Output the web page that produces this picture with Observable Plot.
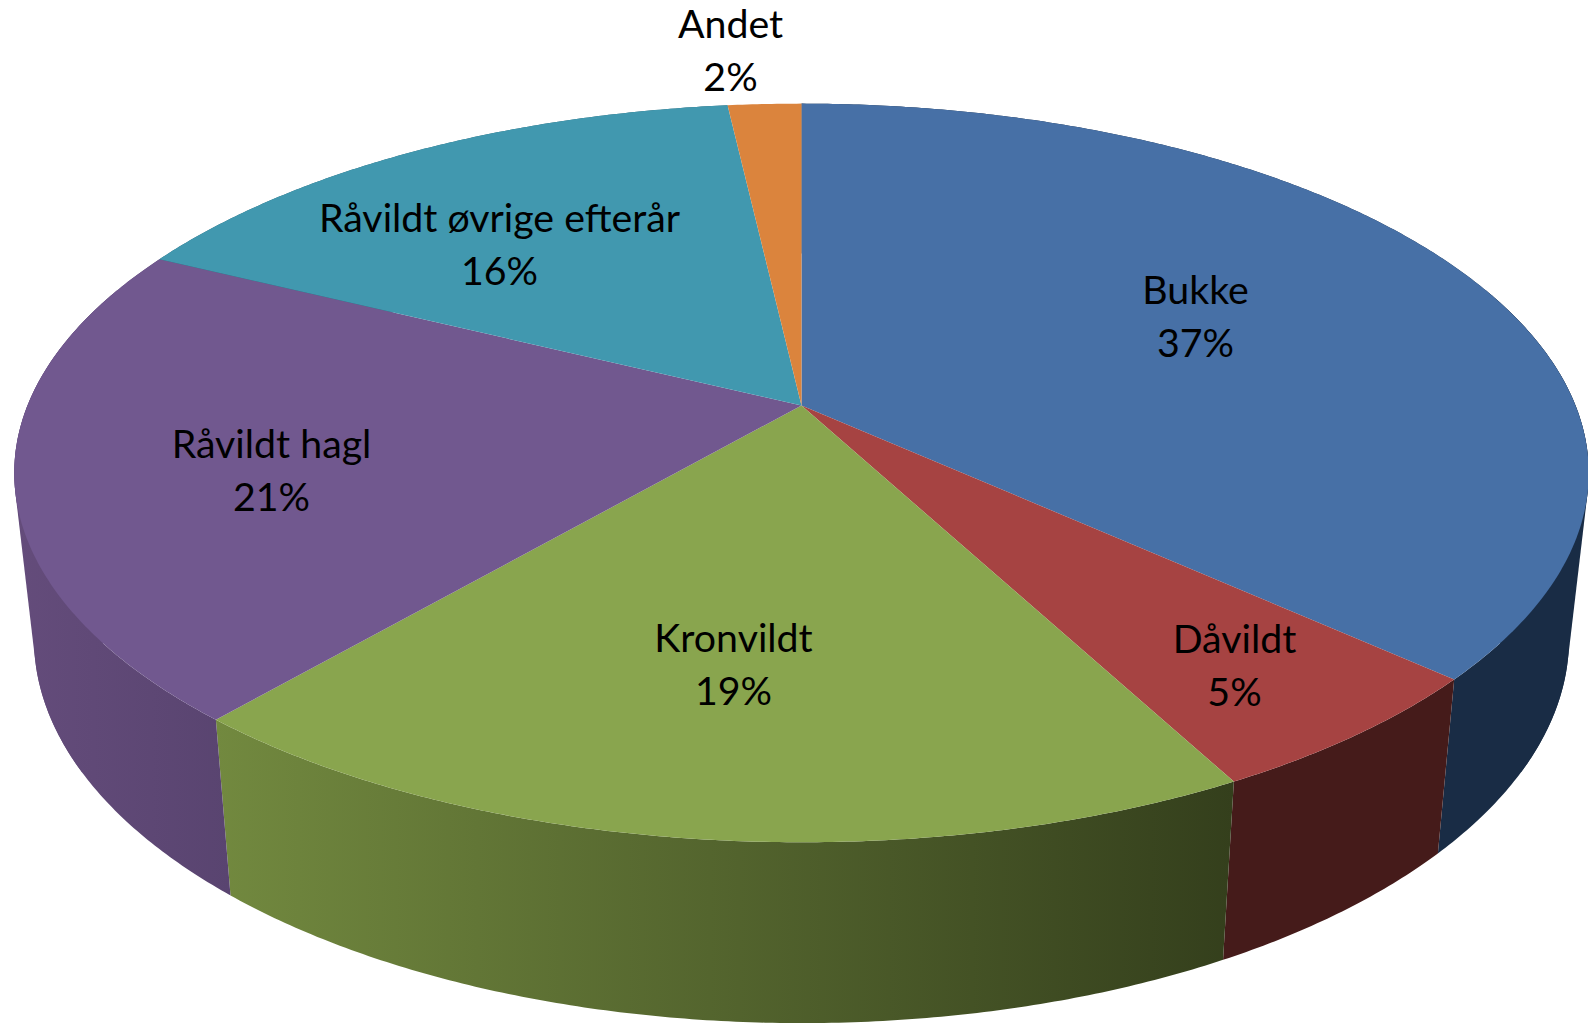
<!DOCTYPE html>
<html lang="da">
<head>
<meta charset="utf-8">
<script src="https://cdn.jsdelivr.net/npm/d3@7"></script>
<script src="https://cdn.jsdelivr.net/npm/@observablehq/plot@0.6"></script>
<style>
html,body{margin:0;padding:0;background:#fff;overflow:hidden}
svg{display:block}
</style>
</head>
<body>
<div id="chart"></div>
<script>
// Data: share of each category in percent, clockwise from twelve o'clock
const categories = ["Bukke", "Dåvildt", "Kronvildt", "Råvildt hagl", "Råvildt øvrige efterår", "Andet"];
const shares = [36.75, 5.49, 19.06, 21.0, 15.9, 1.8];

// Styles
const topColors = ["#4770a6", "#a64342", "#89a54e", "#71588f", "#4198af", "#db843d"];
const wallStops = [
  ["#192c45", "#192c45"],
  ["#451b1a", "#451b1a"],
  ["#72893f", "#343f1c"],
  ["#644c7b", "#594470"],
  ["#2a6373", "#2a6373"],
  ["#8f5626", "#8f5626"]
];

// Layout: label centres and the perspective of the tilted disc
const labelX = [1195, 1234, 733, 271, 499, 730];
const labelY = [313, 662, 661, 467, 241, 47];
const W = 1588, H = 1023;
const cx = 801, cy = 405, a = 774, b = 357, k = 0.1826;
const sx = 0.975, sy = 1.042, dy = 145.5;
const rad = Math.PI / 180;
const silhouetteBands = [[70 * rad, 120 * rad], [240 * rad, 290 * rad]];

const top3d = (t) => {
  const u = Math.sin(t), v = Math.cos(t), w = 1 + k * v;
  return [cx + a * u / w, cy - b * v / w];
};
const bottom3d = (t) => {
  const [x, y] = top3d(t);
  return [cx + (x - cx) * sx, y * sy + dy];
};
const arc = (f, t0, t1) => {
  const n = Math.max(2, Math.ceil(Math.abs(t1 - t0) / 0.008));
  return d3.range(n + 1).map((i) => f(t0 + (t1 - t0) * i / n));
};
const asRows = (pts) => pts.map(([x, y]) => ({x, y}));

// Turn shares into angles
let sum = 0;
const total = d3.sum(shares);
const slices = categories.map((name, i) => {
  const t0 = sum / total * 2 * Math.PI;
  sum += shares[i];
  return {name, i, t0, t1: sum / total * 2 * Math.PI};
});

const isFront = (s) => Math.cos(s.t0) < 0.75 || Math.cos(s.t1) < 0.75;
const gradientSpans = new Map();

// Each wall: band between the top and bottom rim, plus a hull that fills in
// the straight tangent edge where the disc's outline turns from top to bottom
const wallMarks = slices.filter(isFront).flatMap((s) => {
  const fill = `url(#wall${s.i})`;
  const band = [...arc(top3d, s.t0, s.t1), ...arc(bottom3d, s.t1, s.t0)];
  gradientSpans.set(s.i, d3.extent(band, (d) => d[0]));
  const marks = [Plot.line(asRows(band), {x: "x", y: "y", stroke: "none", fill})];
  silhouetteBands.forEach(([lo, hi]) => {
    const t0 = Math.max(lo, s.t0), t1 = Math.min(hi, s.t1);
    if (t1 > t0) {
      const hull = d3.polygonHull([...arc(top3d, t0, t1), ...arc(bottom3d, t0, t1)]);
      marks.push(Plot.line(asRows(hull), {x: "x", y: "y", stroke: "none", fill}));
    }
  });
  return marks;
});
const topMarks = slices.map((s) => {
  const pts = [[cx, cy], ...arc(top3d, s.t0, s.t1)];
  return Plot.line(asRows(pts), {x: "x", y: "y", stroke: "none", fill: topColors[s.i]});
});

const labels = slices.map((s) => ({
  text: `${s.name}\n${Math.round(shares[s.i])}%`,
  x: labelX[s.i],
  y: labelY[s.i]
}));

const chart = Plot.plot({
  width: W,
  height: H,
  margin: 0,
  x: {axis: null, domain: [0, W]},
  y: {axis: null, domain: [H, 0]},
  style: {background: "#fff"},
  marks: [
    ...wallMarks,
    ...topMarks,
    Plot.text(labels, {
      x: "x", y: "y", text: "text",
      fontFamily: "Lato, 'Noto Sans', sans-serif",
      fontSize: 39.3, lineHeight: 1.34, fill: "#000",
      textAnchor: "middle", lineAnchor: "middle"
    })
  ]
});

// Horizontal shading of the side walls
const ns = "http://www.w3.org/2000/svg";
const defs = document.createElementNS(ns, "defs");
gradientSpans.forEach(([x0, x1], i) => {
  const g = document.createElementNS(ns, "linearGradient");
  g.setAttribute("id", `wall${i}`);
  g.setAttribute("gradientUnits", "userSpaceOnUse");
  g.setAttribute("x1", x0); g.setAttribute("x2", x1);
  g.setAttribute("y1", 0); g.setAttribute("y2", 0);
  wallStops[i].forEach((c, j) => {
    const st = document.createElementNS(ns, "stop");
    st.setAttribute("offset", j);
    st.setAttribute("stop-color", c);
    g.appendChild(st);
  });
  defs.appendChild(g);
});
chart.insertBefore(defs, chart.firstChild);
document.getElementById("chart").appendChild(chart);
</script>
</body>
</html>
